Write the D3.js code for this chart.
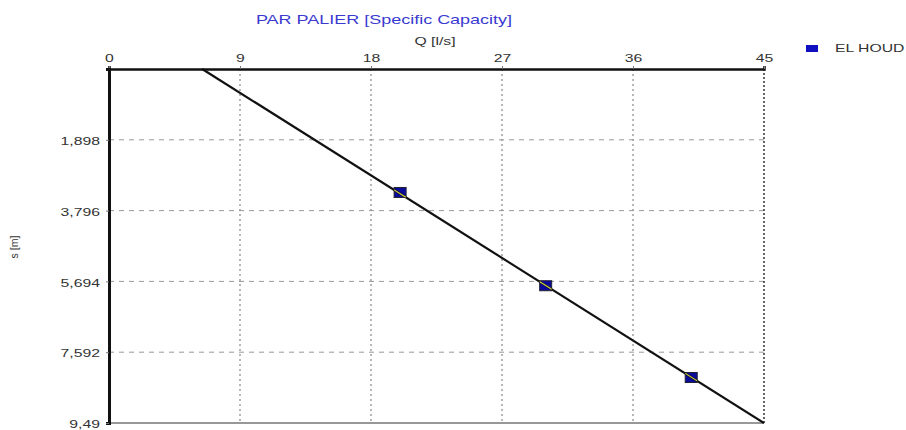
<!DOCTYPE html>
<html>
<head>
<meta charset="utf-8">
<script src="https://cdn.jsdelivr.net/npm/d3@7"></script>
<style>
body { margin: 0; background: #fff; }
text { font-family: "Liberation Sans", Arial, sans-serif; }
</style>
</head>
<body>
<script>
// measured points (Q in l/s, s in m)
var pointsQ = [20, 30, 40];
var pointsS = [3.31, 5.81, 8.27];
// fitted line ends
var fitQ = [6.4, 45];
var fitS = [0, 9.49];
var xTicks = [0, 9, 18, 27, 36, 45];
var yTicks = [1.898, 3.796, 5.694, 7.592, 9.49];
var yTickLabels = ["1,898", "3,796", "5,694", "7,592", "9,49"];
var seriesName = "EL HOUD";

var width = 906, height = 430;
var plotLeft = 109, plotRight = 764, plotTop = 69, plotBottom = 423;
var sx = 1.5; // the lettering in the picture is stretched wide

var svg = d3.select("body").append("svg")
  .attr("width", width)
  .attr("height", height);

var x = d3.scaleLinear().domain([0, 45]).range([plotLeft, plotRight]);
var y = d3.scaleLinear().domain([0, 9.49]).range([plotTop, plotBottom]);

function wideText(cx, cy, size, color, str, anchor) {
  return svg.append("text")
    .attr("transform", "translate(" + cx + "," + cy + ") scale(" + sx + ",1)")
    .attr("text-anchor", anchor || "middle")
    .attr("font-size", size)
    .attr("fill", color)
    .text(str);
}

// grid
svg.append("g").selectAll("line")
  .data(xTicks.slice(1, -1))
  .enter().append("line")
  .attr("x1", function(d) { return x(d); })
  .attr("x2", function(d) { return x(d); })
  .attr("y1", plotTop).attr("y2", plotBottom)
  .attr("stroke", "#888").attr("stroke-width", 1.2)
  .attr("stroke-dasharray", "2,3");

svg.append("g").selectAll("line")
  .data(yTicks.slice(0, -1))
  .enter().append("line")
  .attr("x1", plotLeft).attr("x2", plotRight)
  .attr("y1", function(d) { return y(d); })
  .attr("y2", function(d) { return y(d); })
  .attr("stroke", "#999").attr("stroke-width", 1)
  .attr("stroke-dasharray", "5,5");

// frame: right dashed, bottom thin
svg.append("line")
  .attr("x1", plotRight).attr("x2", plotRight).attr("y1", plotTop).attr("y2", plotBottom)
  .attr("stroke", "#333").attr("stroke-width", 1.5).attr("stroke-dasharray", "2,2");
svg.append("line")
  .attr("x1", plotLeft).attr("x2", plotRight).attr("y1", plotBottom).attr("y2", plotBottom)
  .attr("stroke", "#333").attr("stroke-width", 1);

// top axis
var xAxis = d3.axisTop(x).tickValues(xTicks).tickSize(3).tickFormat(d3.format("d"));
var gx = svg.append("g")
  .attr("transform", "translate(0," + plotTop + ")")
  .call(xAxis);
gx.select(".domain").attr("stroke", "#111").attr("stroke-width", 2.5);
gx.selectAll(".tick line").attr("stroke", "#777");
gx.selectAll("text")
  .attr("font-size", 10.5).attr("fill", "#333")
  .attr("font-family", "Liberation Sans, Arial, sans-serif")
  .attr("y", -7).attr("dy", 0)
  .attr("transform", "scale(" + sx + ",1)");

// left axis
var yAxis = d3.axisLeft(y).tickValues(yTicks).tickSize(3)
  .tickFormat(function(d, i) { return yTickLabels[i]; });
var gy = svg.append("g")
  .attr("transform", "translate(" + plotLeft + ",0)")
  .call(yAxis);
gy.select(".domain").attr("stroke", "#111").attr("stroke-width", 3);
gy.selectAll(".tick line").attr("stroke", "#777");
gy.selectAll("text")
  .attr("font-size", 10.5).attr("fill", "#333")
  .attr("font-family", "Liberation Sans, Arial, sans-serif")
  .attr("x", -9 / sx).attr("dy", "0.45em")
  .attr("transform", "scale(" + sx + ",1)");

// titles
wideText(384, 24, 12, "#3a3ad0", "PAR PALIER [Specific Capacity]");
wideText(435, 45, 10.5, "#333", "Q [l/s]");

svg.append("text")
  .attr("transform", "translate(18,247) rotate(-90)")
  .attr("text-anchor", "middle")
  .attr("font-size", 10.5)
  .attr("fill", "#333")
  .text("s [m]");

// markers
var mw = 12, mh = 10;
svg.append("g").selectAll("rect")
  .data(pointsQ)
  .enter().append("rect")
  .attr("x", function(d) { return x(d) - mw / 2; })
  .attr("y", function(d, i) { return y(pointsS[i]) - mh / 2; })
  .attr("width", mw).attr("height", mh)
  .attr("fill", "#0a0a9a")
  .attr("stroke", "#223").attr("stroke-width", 1);

// fitted line
var line = d3.line()
  .x(function(d) { return x(d); })
  .y(function(d, i) { return y(fitS[i]); });

svg.append("path")
  .datum(fitQ)
  .attr("d", line)
  .attr("fill", "none")
  .attr("stroke", "#111")
  .attr("stroke-width", 2.2);

// yellow where the line crosses the markers
var clip = svg.append("clipPath").attr("id", "mk");
clip.selectAll("rect")
  .data(pointsQ)
  .enter().append("rect")
  .attr("x", function(d) { return x(d) - mw / 2; })
  .attr("y", function(d, i) { return y(pointsS[i]) - mh / 2; })
  .attr("width", mw).attr("height", mh);
svg.append("path")
  .datum(fitQ)
  .attr("d", line)
  .attr("clip-path", "url(#mk)")
  .attr("fill", "none")
  .attr("stroke", "#c8c850")
  .attr("stroke-width", 1.2);

// legend
svg.append("rect")
  .attr("x", 806).attr("y", 45)
  .attr("width", 12).attr("height", 7)
  .attr("fill", "#1010c0");
wideText(835, 52, 10.5, "#333", seriesName, "start");
</script>
</body>
</html>
